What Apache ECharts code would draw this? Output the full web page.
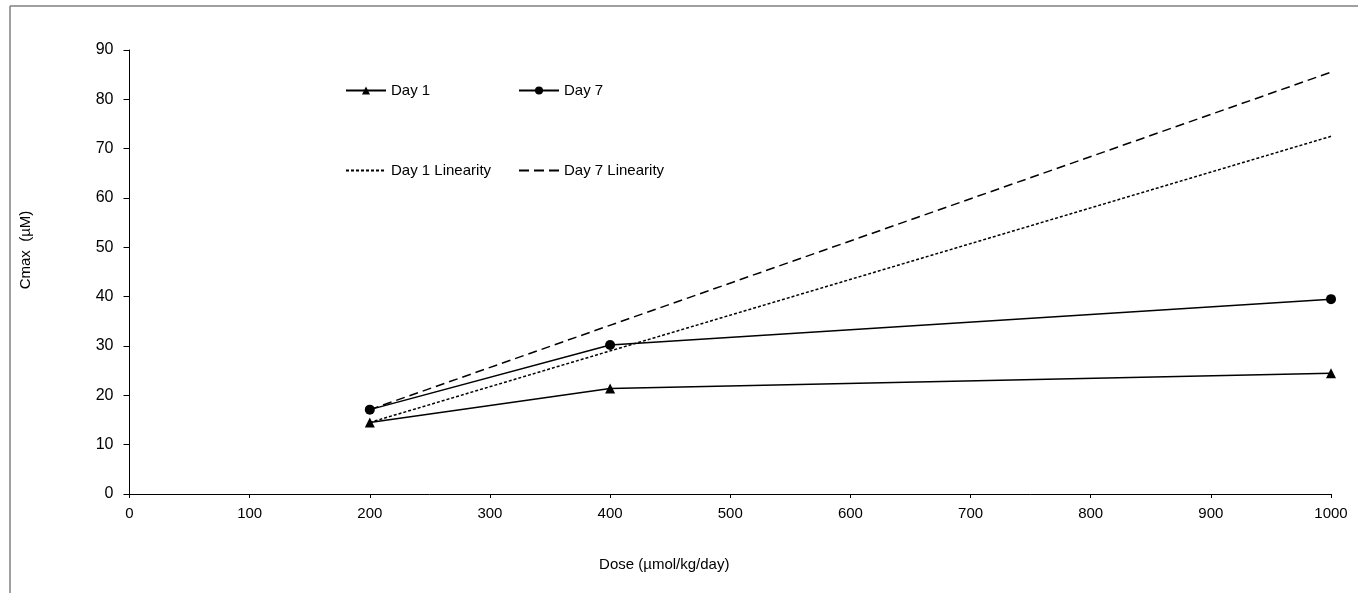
<!DOCTYPE html>
<html>
<head>
<meta charset="utf-8">
<script src="https://cdn.jsdelivr.net/npm/echarts@6/dist/echarts.min.js"></script>
<style>
  html, body { margin: 0; padding: 0; background: #fff; }
  #main { width: 1358px; height: 593px; }
</style>
</head>
<body>
<div id="main"></div>
<script>
// dose levels and Cmax values
let doses = [200, 400, 1000],
    day1 = [14.5, 21.4, 24.5],
    day7 = [17.1, 30.2, 39.5],
    day1Lin = [14.5, 72.5],
    day7Lin = [17.1, 85.5],
    linDoses = [200, 1000];

let font = 'Liberation Sans, Arial, sans-serif';

function pairs(xs, ys) {
    return xs.map((x, i) => [x, ys[i]]);
}

// one legend box per item, placed like the original
function legendAt(item, left, top) {
    return {
        data: [item],
        left: left,
        top: top,
        padding: 0,
        itemWidth: 40,
        itemHeight: 10,
        itemGap: 0,
        textStyle: { fontFamily: font, fontSize: 15, color: '#000' },
        selectedMode: false
    };
}

let myChart = echarts.init(document.getElementById('main'));

myChart.setOption({
    animation: false,
    backgroundColor: '#fff',
    grid: { left: 129.5, right: 27, top: 50, bottom: 99, containLabel: false },
    legend: [
        legendAt('Day 1', 345, 83),
        legendAt('Day 7', 518, 83),
        legendAt({ name: 'Day 1 Linearity', itemStyle: { opacity: 0 } }, 345, 163),
        legendAt({ name: 'Day 7 Linearity', itemStyle: { opacity: 0 }, lineStyle: { type: [10, 5] } }, 518, 163)
    ],
    graphic: [
        { type: 'line', shape: { x1: 10, y1: 6, x2: 10, y2: 593 }, style: { stroke: '#808080', lineWidth: 1.5 } },
        { type: 'line', shape: { x1: 10, y1: 6, x2: 1358, y2: 6 }, style: { stroke: '#808080', lineWidth: 1.5 } }
    ],
    xAxis: {
        type: 'value',
        min: 0,
        max: 1000,
        interval: 100,
        name: 'Dose (µmol/kg/day)',
        nameLocation: 'middle',
        nameGap: 63,
        nameTextStyle: { fontFamily: font, fontSize: 15, color: '#000', padding: [0, 132, 0, 0] },
        axisLine: { lineStyle: { color: '#000', width: 1 } },
        axisTick: { show: true, length: 4, lineStyle: { color: '#000' } },
        axisLabel: { fontFamily: font, fontSize: 15, color: '#000', margin: 12, formatter: v => String(v) },
        splitLine: { show: false }
    },
    yAxis: {
        type: 'value',
        min: 0,
        max: 90,
        interval: 10,
        name: 'Cmax  (µM)',
        nameLocation: 'middle',
        nameGap: 96,
        nameTextStyle: { fontFamily: font, fontSize: 15, color: '#000', padding: [0, 0, 0, 44] },
        axisLine: { show: true, lineStyle: { color: '#000', width: 1 } },
        axisTick: { show: true, length: 6, lineStyle: { color: '#000' } },
        axisLabel: { fontFamily: font, fontSize: 16, color: '#000', margin: 16 },
        splitLine: { show: false }
    },
    series: [
        {
            name: 'Day 1 Linearity',
            type: 'line',
            data: pairs(linDoses, day1Lin),
            symbol: 'none',
            lineStyle: { color: '#000', width: 1.5, type: [3, 2] },
            itemStyle: { color: '#000' }
        },
        {
            name: 'Day 7 Linearity',
            type: 'line',
            data: pairs(linDoses, day7Lin),
            symbol: 'none',
            lineStyle: { color: '#000', width: 1.5, type: [9, 5] },
            itemStyle: { color: '#000' }
        },
        {
            name: 'Day 1',
            type: 'line',
            data: pairs(doses, day1),
            symbol: 'triangle',
            symbolSize: 10,
            lineStyle: { color: '#000', width: 1.5 },
            itemStyle: { color: '#000' }
        },
        {
            name: 'Day 7',
            type: 'line',
            data: pairs(doses, day7),
            symbol: 'circle',
            symbolSize: 10,
            lineStyle: { color: '#000', width: 1.5 },
            itemStyle: { color: '#000' }
        }
    ]
});

window.addEventListener('resize', () => myChart.resize());
</script>
</body>
</html>
